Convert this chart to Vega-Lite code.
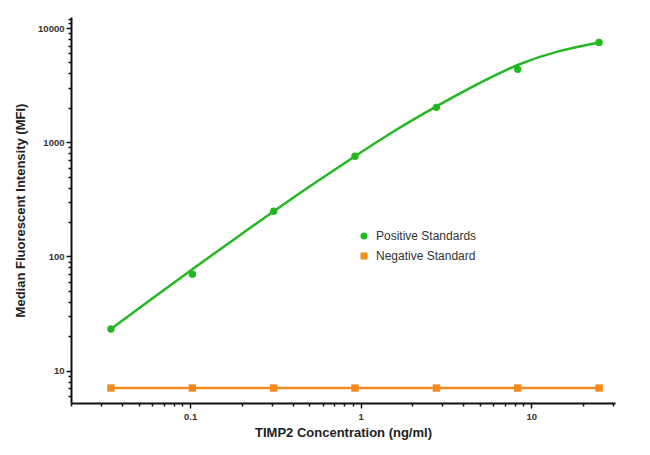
{
  "$schema": "https://vega.github.io/schema/vega-lite/v6.json",
  "width": 544,
  "height": 386,
  "autosize": "none",
  "padding": {"left": 71, "top": 17, "right": 35, "bottom": 52},
  "background": "white",
  "config": {
    "view": {"stroke": null},
    "font": "Liberation Sans"
  },
  "datasets": {
    "fit": [
      {"conc": 0.0343, "mfi": 23.1},
      {"conc": 0.0594, "mfi": 42.3},
      {"conc": 0.103, "mfi": 77.3},
      {"conc": 0.178, "mfi": 138.7},
      {"conc": 0.309, "mfi": 248.8},
      {"conc": 0.535, "mfi": 437.5},
      {"conc": 0.926, "mfi": 753.6},
      {"conc": 1.6, "mfi": 1272},
      {"conc": 2.78, "mfi": 2063},
      {"conc": 4.81, "mfi": 3214},
      {"conc": 8.33, "mfi": 4750},
      {"conc": 14.4, "mfi": 6250},
      {"conc": 25, "mfi": 7486}
    ],
    "standards": [
      {"conc": 0.0343, "mfi": 23.1, "series": "Positive Standards"},
      {"conc": 0.103, "mfi": 69.9, "series": "Positive Standards"},
      {"conc": 0.309, "mfi": 249, "series": "Positive Standards"},
      {"conc": 0.926, "mfi": 754, "series": "Positive Standards"},
      {"conc": 2.78, "mfi": 2021, "series": "Positive Standards"},
      {"conc": 8.33, "mfi": 4347, "series": "Positive Standards"},
      {"conc": 25, "mfi": 7490, "series": "Positive Standards"},
      {"conc": 0.0343, "mfi": 7.03, "series": "Negative Standard"},
      {"conc": 0.103, "mfi": 7.03, "series": "Negative Standard"},
      {"conc": 0.309, "mfi": 7.03, "series": "Negative Standard"},
      {"conc": 0.926, "mfi": 7.03, "series": "Negative Standard"},
      {"conc": 2.78, "mfi": 7.03, "series": "Negative Standard"},
      {"conc": 8.33, "mfi": 7.03, "series": "Negative Standard"},
      {"conc": 25, "mfi": 7.03, "series": "Negative Standard"}
    ]
  },
  "encoding": {
    "x": {
      "field": "conc",
      "type": "quantitative",
      "scale": {"type": "log", "domain": [0.02, 31], "nice": false},
      "axis": {
        "title": "TIMP2 Concentration (ng/ml)",
        "titleFont": "Liberation Sans",
        "titleFontSize": 13,
        "titleFontWeight": "bold",
        "titleColor": "#222222",
        "titlePadding": 6,
        "values": [0.02,0.03,0.04,0.05,0.06,0.07,0.08,0.09,0.1,0.2,0.3,0.4,0.5,0.6,0.7,0.8,0.9,1,2,3,4,5,6,7,8,9,10,20,30],
        "labelExpr": "datum.value == 0.1 ? '0.1' : datum.value == 1 ? '1' : datum.value == 10 ? '10' : ''",
        "labelOverlap": false,
        "labelFlush": false,
        "labelFont": "Liberation Sans",
        "labelFontSize": 9.5,
        "labelFontWeight": "bold",
        "labelColor": "#333333",
        "labelPadding": 3,
        "tickSize": {"condition": {"test": "datum.value == 0.1 || datum.value == 1 || datum.value == 10", "value": 5}, "value": 3},
        "tickColor": "#111111",
        "tickWidth": 1.5,
        "domainColor": "#111111",
        "domainWidth": 2,
        "grid": false
      }
    },
    "y": {
      "field": "mfi",
      "type": "quantitative",
      "scale": {"type": "log", "domain": [5.2, 12500], "nice": false},
      "axis": {
        "title": "Median Fluorescent Intensity (MFI)",
        "titleFont": "Liberation Sans",
        "titleFontSize": 13,
        "titleFontWeight": "bold",
        "titleColor": "#222222",
        "titlePadding": 10,
        "values": [6,7,8,9,10,20,30,40,50,60,70,80,90,100,200,300,400,500,600,700,800,900,1000,2000,3000,4000,5000,6000,7000,8000,9000,10000,11000,12000],
        "labelExpr": "datum.value == 10 ? '10' : datum.value == 100 ? '100' : datum.value == 1000 ? '1000' : datum.value == 10000 ? '10000' : ''",
        "labelOverlap": false,
        "labelFlush": false,
        "labelFont": "Liberation Sans",
        "labelFontSize": 9.5,
        "labelFontWeight": "bold",
        "labelColor": "#333333",
        "labelPadding": 2,
        "tickSize": {"condition": {"test": "datum.value == 10 || datum.value == 100 || datum.value == 1000 || datum.value == 10000", "value": 5}, "value": 3},
        "tickColor": "#111111",
        "tickWidth": 1.5,
        "domainColor": "#111111",
        "domainWidth": 2,
        "grid": false
      }
    }
  },
  "layer": [
    {
      "data": {"name": "fit"},
      "mark": {"type": "line", "interpolate": "natural", "color": "#22b822", "strokeWidth": 2.5},
      "encoding": {}
    },
    {
      "data": {"name": "standards"},
      "transform": [{"filter": "datum.series == 'Negative Standard'"}],
      "mark": {"type": "line", "color": "#f58a1f", "strokeWidth": 2.5},
      "encoding": {}
    },
    {
      "data": {"name": "standards"},
      "mark": {"type": "point", "filled": true, "opacity": 1, "size": 55},
      "encoding": {
        "color": {
          "field": "series",
          "type": "nominal",
          "scale": {"domain": ["Positive Standards", "Negative Standard"], "range": ["#22b822", "#f58a1f"]},
          "legend": {
            "title": null,
            "orient": "none",
            "legendX": 287,
            "legendY": 213,
            "padding": 0,
            "labelFont": "Liberation Sans",
            "labelFontSize": 12,
            "labelColor": "#333333",
            "symbolSize": 50,
            "rowPadding": 8,
            "labelOffset": 6
          }
        },
        "shape": {
          "field": "series",
          "type": "nominal",
          "scale": {"domain": ["Positive Standards", "Negative Standard"], "range": ["circle", "square"]},
          "legend": null
        }
      }
    }
  ]
}
